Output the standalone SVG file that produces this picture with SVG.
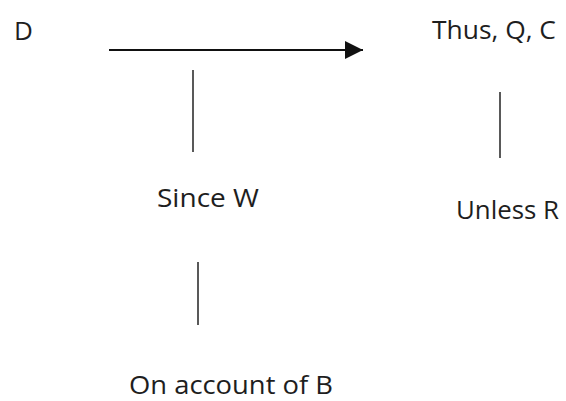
<svg xmlns="http://www.w3.org/2000/svg" width="566" height="401" viewBox="0 0 566 401">
<style>
.t{font-family:"Open Sans","Noto Sans","DejaVu Sans",sans-serif;font-size:26px;fill:#1e1e1e}
.ln{stroke:#222;stroke-width:1.5;fill:none}
.ar{stroke:#111;stroke-width:2.2;fill:none}
</style>
<defs>
<marker id="ah" markerUnits="userSpaceOnUse" markerWidth="20" markerHeight="20" refX="18" refY="9" orient="auto">
<path d="M0,0 L18,9 L0,18 Z" fill="#111"/>
</marker>
</defs>
<rect width="566" height="401" fill="#fff"/>
<g id="nD"><text class="t" x="14" y="40">D</text></g>
<g id="nThus"><text class="t" x="432" y="39" textLength="124" lengthAdjust="spacingAndGlyphs">Thus, Q, C</text></g>
<g id="nSince"><text class="t" x="157" y="207" textLength="102" lengthAdjust="spacingAndGlyphs">Since W</text></g>
<g id="nUnless"><text class="t" x="456" y="219" textLength="103" lengthAdjust="spacingAndGlyphs">Unless R</text></g>
<g id="nAccount"><text class="t" x="129" y="394" textLength="204" lengthAdjust="spacingAndGlyphs">On account of B</text></g>
<g id="connectors">
<line class="ar" x1="109" y1="50" x2="363" y2="50" marker-end="url(#ah)"/>
<line class="ln" x1="193" y1="70" x2="193" y2="152"/>
<line class="ln" x1="500" y1="92" x2="500" y2="158"/>
<line class="ln" x1="198" y1="262" x2="198" y2="325"/>
</g>
</svg>
